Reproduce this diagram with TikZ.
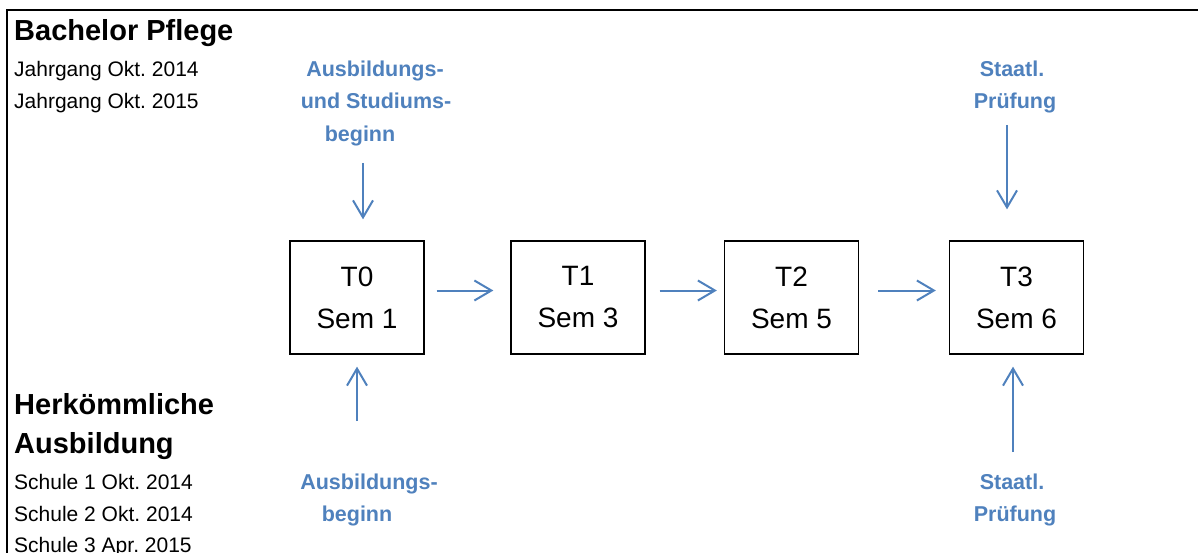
\documentclass[tikz,border=0pt]{standalone}
\usepackage{fontspec}
\setmainfont{Liberation Sans}
\usetikzlibrary{arrows.meta}
\definecolor{myblue}{HTML}{4F81BD}
\frenchspacing
\tikzset{
  head/.style={anchor=base west, inner sep=0pt, font=\fontsize{29}{35}\selectfont\bfseries},
  body/.style={anchor=base west, inner sep=0pt, font=\fontsize{21}{25}\selectfont},
  lbl/.style={anchor=base, inner sep=0pt, text=myblue, font=\fontsize{21.5}{26}\selectfont\bfseries},
  tbox/.style={draw=black, line width=1.3pt, minimum width=134pt, minimum height=113pt, inner sep=0pt, align=center, font=\fontsize{28}{42}\selectfont},
  arr/.style={draw=myblue, line width=2pt, -{Straight Barb[length=17pt,width=20pt]}},
}
\begin{document}
\begin{tikzpicture}[x=1pt,y=-1pt]
\useasboundingbox (0,0) rectangle (1198,553);
\draw[line width=2.4pt] (1198,10) -- (7,10) -- (7,553);

\node[head] (bp) at (14,41) {Bachelor Pflege};
\node[body] (j14) at (14,77) {Jahrgang Okt. 2014};
\node[body] (j15) at (14,109) {Jahrgang Okt. 2015};
\node[head] (hk1) at (14,414) {Herkömmliche};
\node[head] (hk2) at (14,453) {Ausbildung};
\node[body] (s1) at (14,489) {Schule 1 Okt. 2014};
\node[body] (s2) at (14,521) {Schule 2 Okt. 2014};
\node[body] (s3) at (14,552) {Schule 3 Apr. 2015};

\node[tbox] (T0) at (357,297.5) {T0\\Sem 1};
\node[tbox] (T1) at (578,297.5) {T1\\Sem 3};
\node[tbox] (T2) at (791.5,297.5) {T2\\Sem 5};
\node[tbox] (T3) at (1016.5,297.5) {T3\\Sem 6};

\draw[arr, shorten <=12pt, shorten >=17pt] ([yshift=7pt]T0.east) -- ([yshift=7pt]T1.west);
\draw[arr, shorten <=14pt, shorten >=7pt] ([yshift=7pt]T1.east) -- ([yshift=7pt]T2.west);
\draw[arr, shorten <=19pt, shorten >=13pt] ([yshift=7pt]T2.east) -- ([yshift=7pt]T3.west);

% top labels
\node[lbl] (a1) at (375,77) {Ausbildungs-};
\node[lbl] (a2) at (376,109) {und Studiums-};
\node[lbl] (a3) at (360,142) {beginn};
\node[lbl] (p1) at (1012,77) {Staatl.};
\node[lbl] (p2) at (1015,109) {Prüfung};
% bottom labels
\node[lbl] (b1) at (369,489) {Ausbildungs-};
\node[lbl] (b2) at (357,521) {beginn};
\node[lbl] (q1) at (1012,489) {Staatl.};
\node[lbl] (q2) at (1015,521) {Prüfung};

\coordinate (c0t) at (363,163);
\coordinate (c0b) at (357,421);
\coordinate (c3t) at (1007,125);
\coordinate (c3b) at (1013,452);
\draw[arr, shorten >=21pt] (c0t) -- (c0t |- T0.north);
\draw[arr, shorten >=12pt] (c0b) -- (c0b |- T0.south);
\draw[arr, shorten >=31pt] (c3t) -- (c3t |- T3.north);
\draw[arr, shorten >=12pt] (c3b) -- (c3b |- T3.south);
\end{tikzpicture}
\end{document}
